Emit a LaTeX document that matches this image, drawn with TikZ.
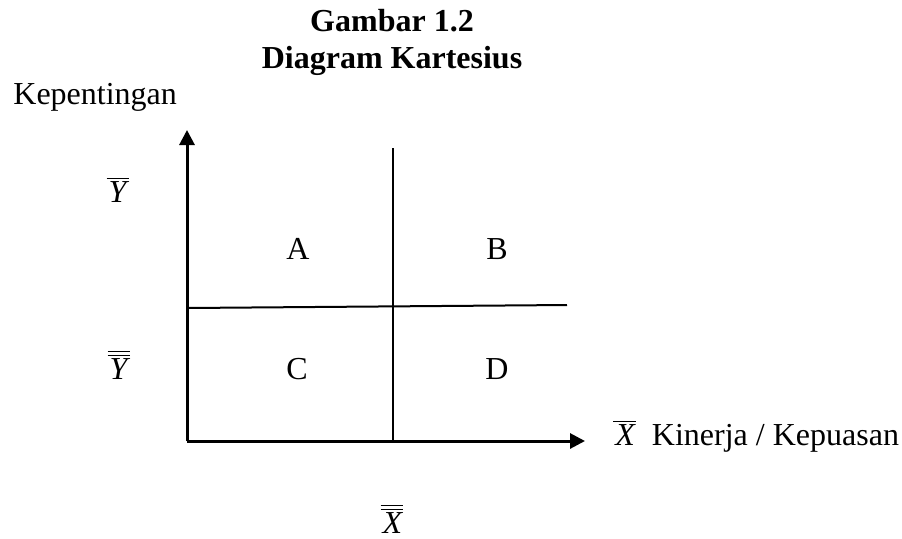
\documentclass[tikz,border=0pt]{standalone}
\usepackage{fontspec}
\setmainfont{Liberation Serif}
\usepackage{tikz}
\usetikzlibrary{arrows.meta,positioning}
\tikzset{
  axis/.style  ={line width=1.5pt, draw=black, -{Triangle[length=7.5pt, width=7.5pt]}},
  divider/.style={line width=1pt, draw=black},
  lbl/.style   ={anchor=base, inner sep=0pt, font=\fontsize{16}{19}\selectfont},
  ttl/.style   ={anchor=base, inner sep=0pt, font=\fontsize{16}{19}\selectfont\bfseries}
}
\newcommand{\meanof}[1]{$\overline{\hbox{\kern1pt\textit{#1}}}$}
\newcommand{\grandmeanof}[1]{$\overline{\overline{\hbox{\kern1pt\textit{#1}}}}$}
\begin{document}
\begin{tikzpicture}[x=0.5pt, y=-0.5pt]
\useasboundingbox (0,0) rectangle (902,538);
% ---- Title ----
\node[ttl] (ttlone) at (392,31) {Gambar 1.2};
\node[ttl] (ttltwo) at (392,68) {Diagram Kartesius};
\node[lbl, anchor=base west] (ylabel) at (13,104) {Kepentingan};

% ---- Axes ----
\coordinate (origin) at (187,441);
\coordinate (ytip) at (187,130);
\coordinate (xtip) at (585,441);
\draw[axis] (origin) -- (ytip);
\draw[axis] (origin) -- (xtip);

% ---- Dividers ----
\coordinate (vtop) at (393,148);
\coordinate (vbot) at (393,441);
\coordinate (hleft) at (187,308);
\coordinate (hright) at (567,305);
\draw[divider] (vtop) -- (vbot);
\draw[divider] (hleft) -- (hright);

% ---- Quadrants ----
\node[lbl] (qa) at (298,259) {A};
\node[lbl] (qb) at (497,259) {B};
\node[lbl] (qc) at (297,379) {C};
\node[lbl] (qd) at (497,379) {D};

% ---- Means ----
\node[lbl] (ymean) at (118,202) {\meanof{Y}};
\node[lbl] (ygrand) at (119,379) {\grandmeanof{Y}};
\node[lbl, anchor=base west] (xlabel) at (613,445) {\meanof{X}\ \ Kinerja / Kepuasan};
\node[lbl] (xgrand) at (392,533) {\grandmeanof{X}};
\end{tikzpicture}
\end{document}
